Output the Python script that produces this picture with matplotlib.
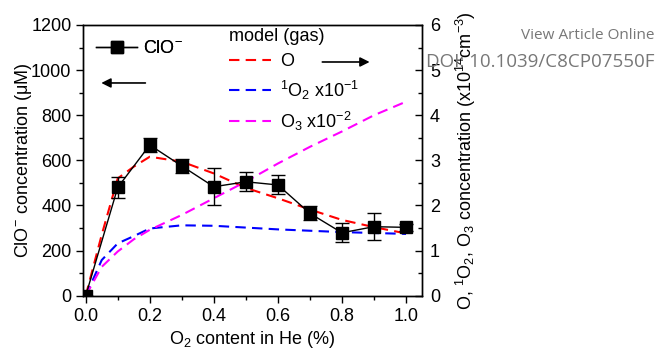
import matplotlib
matplotlib.use("Agg")
import matplotlib.pyplot as plt
from matplotlib.ticker import MultipleLocator
from matplotlib.lines import Line2D

plt.rcParams['font.family'] = ['Liberation Sans', 'DejaVu Sans']
plt.rcParams['mathtext.fontset'] = 'custom'
plt.rcParams['mathtext.rm'] = 'Liberation Sans'
plt.rcParams['mathtext.it'] = 'Liberation Sans:italic'
plt.rcParams['mathtext.default'] = 'regular'

# Measured ClO- concentration (uM)
x_exp = [0.0, 0.1, 0.2, 0.3, 0.4, 0.5, 0.6, 0.7, 0.8, 0.9, 1.0]
clo = [0, 480, 668, 575, 483, 505, 491, 365, 279, 306, 303]
clo_err = [0, 47, 31, 33, 83, 42, 42, 31, 43, 59, 15]

# Model (gas), right axis units (x10^14 cm^-3)
x_mod = [0.0, 0.05, 0.1, 0.15, 0.2, 0.3, 0.4, 0.5, 0.6, 0.7, 0.8, 0.9, 1.0]
o_mod = [0.0, 1.35, 2.6, 2.86, 3.08, 2.97, 2.71, 2.39, 2.16, 1.91, 1.68, 1.52, 1.38]
o2_mod = [0.0, 0.79, 1.16, 1.32, 1.49, 1.56, 1.55, 1.51, 1.47, 1.44, 1.41, 1.39, 1.37]
o3_mod = [0.0, 0.64, 0.98, 1.25, 1.46, 1.79, 2.16, 2.53, 2.93, 3.3, 3.64, 4.0, 4.3]

fig = plt.figure(figsize=(6.58, 3.55), dpi=100)
ax = fig.add_axes([0.1266, 0.167, 0.5143, 0.7626])
ax2 = ax.twinx()

fs = 13
eb = ax.errorbar(x_exp, clo, yerr=clo_err, color='black', lw=1.0, marker='s',
                 ms=8.5, capsize=5, capthick=1.0, elinewidth=1.0, zorder=5,
                 label='ClO$^{-}$')
ax.set_zorder(2)
ax.patch.set_visible(False)

l1, = ax2.plot(x_mod, o_mod, color='red', ls=(0, (5, 3)), lw=1.5, label='O')
l2, = ax2.plot(x_mod, o2_mod, color='blue', ls=(0, (5, 3)), lw=1.5,
               label='$^{1}$O$_{2}$ x10$^{-1}$')
l3, = ax2.plot(x_mod, o3_mod, color='magenta', ls=(0, (5, 3)), lw=1.5,
               label='O$_{3}$ x10$^{-2}$')

ax.set_xlim(-0.0075, 1.049)
ax.set_ylim(0, 1200)
ax2.set_ylim(0, 6)

ax.xaxis.set_major_locator(MultipleLocator(0.2))
ax.xaxis.set_minor_locator(MultipleLocator(0.1))
ax.yaxis.set_major_locator(MultipleLocator(200))
ax.yaxis.set_minor_locator(MultipleLocator(100))
ax2.yaxis.set_major_locator(MultipleLocator(1))
ax2.yaxis.set_minor_locator(MultipleLocator(0.5))

ax.tick_params(axis='both', which='major', direction='out', length=5, width=1,
               labelsize=fs, top=False)
ax.tick_params(axis='both', which='minor', direction='out', length=3, width=1,
               top=False)
ax.xaxis.set_major_formatter(matplotlib.ticker.FormatStrFormatter('%.1f'))
ax2.tick_params(axis='y', which='major', direction='in', length=5, width=1,
                labelsize=fs, pad=6)
ax2.tick_params(axis='y', which='minor', direction='in', length=3, width=1)

for a in (ax, ax2):
    for s in a.spines.values():
        s.set_linewidth(1.0)

ax.set_xlabel('O$_{2}$ content in He (%)', fontsize=fs, labelpad=3)
ax.set_ylabel('ClO$^{-}$ concentration (μM)', fontsize=fs, labelpad=-2)
ax2.set_ylabel('O, $^{1}$O$_{2}$, O$_{3}$ concentration (x10$^{14}$cm$^{-3}$)',
               fontsize=fs, labelpad=10)

# Legends
h_clo = Line2D([], [], color='black', lw=1.0, marker='s', ms=8.5)
leg1 = ax.legend([h_clo], ['ClO$^{-}$'], loc='upper left', frameon=False,
                 fontsize=fs, handlelength=2.3, handletextpad=0.3,
                 bbox_to_anchor=(0.0, 0.99), borderaxespad=0.3)
ax.add_artist(leg1)
leg2 = ax2.legend([l1, l2, l3], [l1.get_label(), l2.get_label(), l3.get_label()],
                  loc='upper left', frameon=False, fontsize=fs,
                  title='model (gas)', title_fontsize=fs, handlelength=2.3,
                  handletextpad=0.5, labelspacing=0.45,
                  bbox_to_anchor=(0.41, 1.015), borderaxespad=0.0)
leg2._legend_box.align = 'left'

# Arrows indicating axes
ax.annotate('', xy=(0.04, 943), xytext=(0.195, 943),
            arrowprops=dict(arrowstyle='-|>', color='black', lw=1.2,
                            mutation_scale=14))
ax.annotate('', xy=(0.895, 1036), xytext=(0.73, 1036),
            arrowprops=dict(arrowstyle='-|>', color='black', lw=1.2,
                            mutation_scale=14))

# Watermark
fig.text(0.995, 0.90, 'View Article Online', ha='right', va='center',
         fontsize=11, color='#777777', family=['Open Sans', 'DejaVu Sans'])
fig.text(0.995, 0.825, 'DOI: 10.1039/C8CP07550F', ha='right', va='center',
         fontsize=13.5, color='#777777', family=['Open Sans', 'DejaVu Sans'])

fig.savefig('out.png', dpi=100)
